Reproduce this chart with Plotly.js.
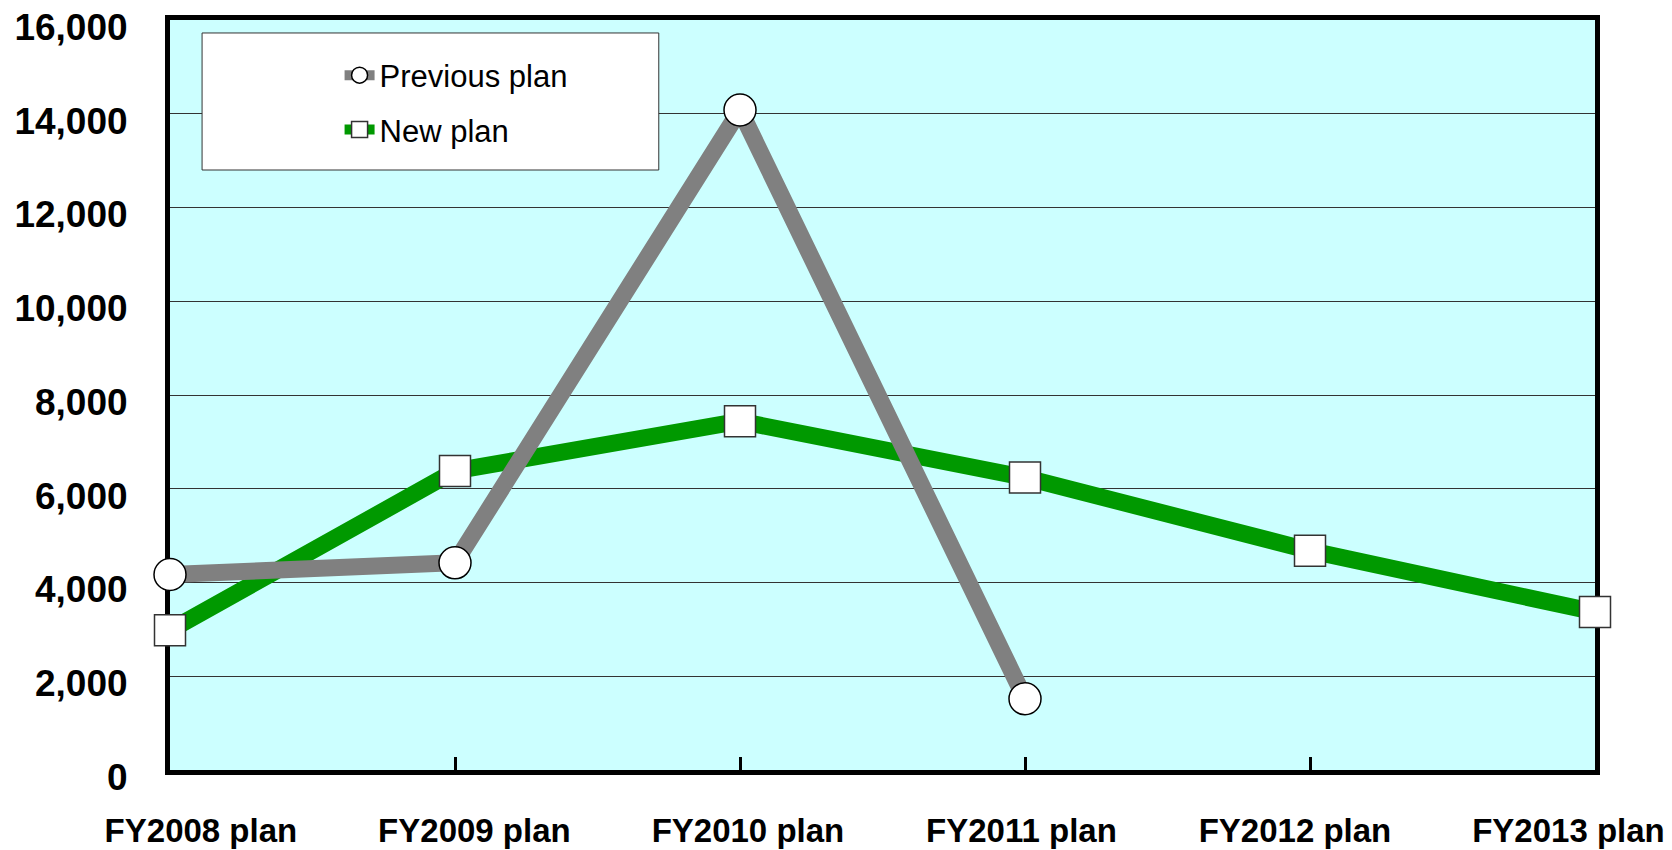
<!DOCTYPE html>
<html>
<head>
<meta charset="utf-8">
<script src="https://cdn.plot.ly/plotly-3.0.1.min.js"></script>
<style>html,body{margin:0;padding:0;background:#fff;}#chart{width:1672px;height:850px;}</style>
</head>
<body>
<div id="chart"></div>
<script>
const categories = ["FY2008 plan", "FY2009 plan", "FY2010 plan", "FY2011 plan", "FY2012 plan", "FY2013 plan"];
const previousPlan = [4170, 4420, 14080, 1520];
const newPlan = [2980, 6380, 7440, 6240, 4680, 3370];
const yTicks = [0, 2000, 4000, 6000, 8000, 10000, 12000, 14000, 16000];

const FONT = "Liberation Sans, Arial, sans-serif";

const traces = [
  {
    name: "New plan",
    x: categories,
    y: newPlan,
    type: "scatter",
    mode: "lines+markers",
    legendgroup: "b",
    legendrank: 2,
    line: {color: "#009900", width: 17},
    marker: {symbol: "square", size: 31, color: "#ffffff", line: {color: "#333333", width: 1.5}},
    cliponaxis: false,
    hoverinfo: "x+y"
  },
  {
    name: "Previous plan",
    x: categories.slice(0, previousPlan.length),
    y: previousPlan,
    type: "scatter",
    mode: "lines+markers",
    legendgroup: "a",
    legendrank: 1,
    line: {color: "#808080", width: 17},
    marker: {symbol: "circle", size: 32, color: "#ffffff", line: {color: "#000000", width: 1.5}},
    cliponaxis: false,
    hoverinfo: "x+y"
  },
  {
    name: "labels",
    x: categories,
    y: newPlan,
    xaxis: "x2",
    type: "scatter",
    mode: "lines",
    line: {width: 0},
    opacity: 0,
    showlegend: false,
    hoverinfo: "skip"
  }
];

const layout = {
  width: 1672,
  height: 850,
  margin: {l: 170, r: 77, t: 20, b: 80},
  paper_bgcolor: "#ffffff",
  plot_bgcolor: "#ccffff",
  showlegend: true,
  legend: {
    x: 0.119, y: 0.962, xanchor: "left", yanchor: "top",
    bgcolor: "rgba(0,0,0,0)", borderwidth: 0,
    font: {family: FONT, size: 31, color: "#000000"},
    traceorder: "grouped",
    tracegroupgap: 11
  },
  xaxis: {
    type: "category",
    categoryorder: "array",
    categoryarray: categories,
    range: [0, categories.length - 1],
    showticklabels: false,
    ticks: "inside", ticklen: 13, tickwidth: 3, tickcolor: "#000000",
    showline: true, linewidth: 5, linecolor: "#000000", mirror: true,
    showgrid: false, zeroline: false,
    layer: "below traces",
    fixedrange: true
  },
  xaxis2: {
    type: "category",
    categoryorder: "array",
    categoryarray: categories,
    overlaying: "x",
    anchor: "y",
    side: "bottom",
    range: [-0.113, 5.097],
    showline: false, showgrid: false, zeroline: false,
    ticks: "",
    ticklabelstandoff: 38,
    tickfont: {family: FONT, size: 33, color: "#000000", weight: 700},
    fixedrange: true
  },
  yaxis: {
    range: [0, 16000],
    tickvals: yTicks,
    tickformat: ",d",
    showgrid: true, gridcolor: "#333333", gridwidth: 1,
    showline: true, linewidth: 5, linecolor: "#000000", mirror: true,
    zeroline: false,
    ticks: "",
    ticklabelstandoff: 30,
    ticklabelshift: 7,
    ticklabeloverflow: "allow",
    tickfont: {family: FONT, size: 37, color: "#000000", weight: 700},
    layer: "below traces",
    fixedrange: true
  },
  shapes: [
    {type: "rect", xref: "paper", yref: "paper", x0: 0.0225, x1: 0.343, y0: 0.8, y1: 0.9827,
     fillcolor: "#ffffff", line: {color: "#333333", width: 1}, layer: "above"}
  ]
};

Plotly.newPlot("chart", traces, layout, {displayModeBar: false, staticPlot: true});
</script>
</body>
</html>
